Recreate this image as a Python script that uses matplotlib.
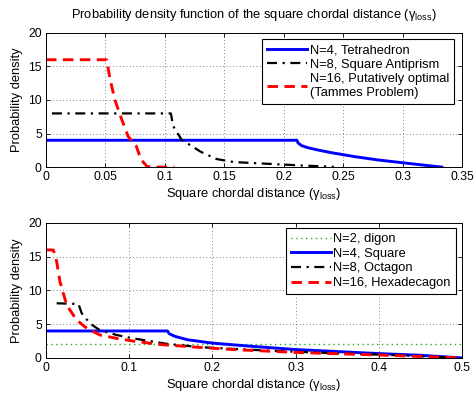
import matplotlib
matplotlib.use("Agg")
import numpy as np
from matplotlib import pyplot as plt

plt.rcParams["font.family"] = ["Liberation Sans", "DejaVu Sans"]
plt.rcParams["mathtext.fontset"] = "custom"
plt.rcParams["mathtext.rm"] = "Liberation Sans"
plt.rcParams["font.size"] = 9.3

# ----------------------------------------------------
# Data (top: 3D packings)
# ----------------------------------------------------
tet_x = [0, 0.211, 0.212, 0.215, 0.22, 0.23, 0.24, 0.25, 0.26, 0.27, 0.28, 0.29, 0.30, 0.31, 0.32, 0.333]
tet_y = [4, 4, 3.6, 3.2, 2.9, 2.5, 2.15, 1.85, 1.55, 1.3, 1.05, 0.85, 0.65, 0.45, 0.25, 0]

anti_x = [0.005, 0.105, 0.107, 0.114, 0.13, 0.1435, 0.158, 0.186, 0.214, 0.242]
anti_y = [8, 8, 6.1, 4.1, 2.3, 1.2, 0.75, 0.5, 0.25, 0.05]

tam_x = [0, 0.051, 0.054, 0.058, 0.0637, 0.069, 0.076, 0.080, 0.085, 0.09, 0.108]
tam_y = [16, 16, 13, 10, 7.1, 4.6, 3.1, 1.1, 0.1, 0, 0]

# bottom: 2D polygons
dig_x = [0, 0.5, 0.5]
dig_y = [2, 2, 0]

sq_x = [0, 0.146, 0.148, 0.155, 0.17, 0.2, 0.25, 0.3, 0.35, 0.4, 0.45, 0.5]
sq_y = [4, 4, 3.6, 3.2, 2.7, 2.2, 1.7, 1.25, 0.95, 0.65, 0.4, 0]

oct_x = [0.0128, 0.039, 0.043, 0.053, 0.065, 0.085, 0.105, 0.145, 0.185, 0.265, 0.345, 0.425, 0.5]
oct_y = [8.1, 8, 6.6, 5.1, 4.1, 3.4, 2.9, 2.1, 1.6, 1.1, 0.7, 0.4, 0]

hex_x = [0, 0.0088, 0.0128, 0.0168, 0.025, 0.037, 0.049, 0.065, 0.085, 0.105, 0.137, 0.169, 0.225, 0.305, 0.385, 0.466, 0.5]
hex_y = [16, 16, 14.3, 11.3, 7.8, 5.6, 4.4, 3.4, 2.9, 2.5, 2.0, 1.7, 1.25, 0.8, 0.5, 0.15, 0]

xlab = "Square chordal distance (γ$_\\mathregular{loss}$)"
dashdot = (0, (4.5, 2.5, 1, 2.5))
dashed = (0, (3.6, 2.2))


def style_axes(ax, xmax, xstep):
    ax.set_xlim(0, xmax)
    ax.set_ylim(0, 20)
    ax.set_xticks(np.round(np.arange(0, xmax + 1e-9, xstep), 2))
    ax.set_yticks([0, 5, 10, 15, 20])
    ax.xaxis.set_major_formatter(plt.FuncFormatter(lambda v, p: ("%g" % v)))
    ax.tick_params(direction="in", top=True, right=True, length=3, labelsize=8.7, width=0.6, pad=3)
    ax.grid(True, color="0.35", linestyle=(0, (1, 3)), linewidth=0.6)
    for s in ax.spines.values():
        s.set_linewidth(0.7)
    ax.set_xlabel(xlab, fontsize=9.3, labelpad=2)
    ax.set_ylabel("Probability density", fontsize=9.3, labelpad=4)


fig = plt.figure(figsize=(4.74, 3.96), dpi=100)
ax1 = fig.add_axes([0.097, 0.578, 0.878, 0.339])
ax2 = fig.add_axes([0.097, 0.096, 0.878, 0.341])

ax1.plot(tet_x, tet_y, color="#0000ff", lw=2.1, label="N=4, Tetrahedron")
ax1.plot(anti_x, anti_y, color="k", lw=1.6, linestyle=dashdot, label="N=8, Square Antiprism")
ax1.plot(tam_x, tam_y, color="#ff0000", lw=2.1, linestyle=dashed,
         label="N=16, Putatively optimal\n(Tammes Problem)")
style_axes(ax1, 0.35, 0.05)
fig.text(0.536, 1 - 15 / 396,
         "Probability density function of the square chordal distance (γ$_\\mathregular{loss}$)",
         fontsize=9.3, ha="center", va="center")
leg_kw = dict(fontsize=9.3, fancybox=False, edgecolor="k", framealpha=1, handlelength=3.1,
              handletextpad=0.2, labelspacing=0.2, borderpad=0.4, borderaxespad=0)
leg1 = ax1.legend(loc="upper right", bbox_to_anchor=(0.981, 0.955), **leg_kw)
leg1.get_frame().set_linewidth(0.8)

ax2.plot(dig_x, dig_y, color="#22aa22", lw=1, linestyle=(0, (1, 2.5)), label="N=2, digon")
ax2.plot(sq_x, sq_y, color="#0000ff", lw=2.1, label="N=4, Square")
ax2.plot(oct_x, oct_y, color="k", lw=1.6, linestyle=dashdot, label="N=8, Octagon")
ax2.plot(hex_x, hex_y, color="#ff0000", lw=2.1, linestyle=dashed, label="N=16, Hexadecagon")
style_axes(ax2, 0.5, 0.1)
leg2 = ax2.legend(loc="upper right", bbox_to_anchor=(0.985, 0.963), **leg_kw)
leg2.get_frame().set_linewidth(0.8)

fig.savefig("out.png", dpi=100)
